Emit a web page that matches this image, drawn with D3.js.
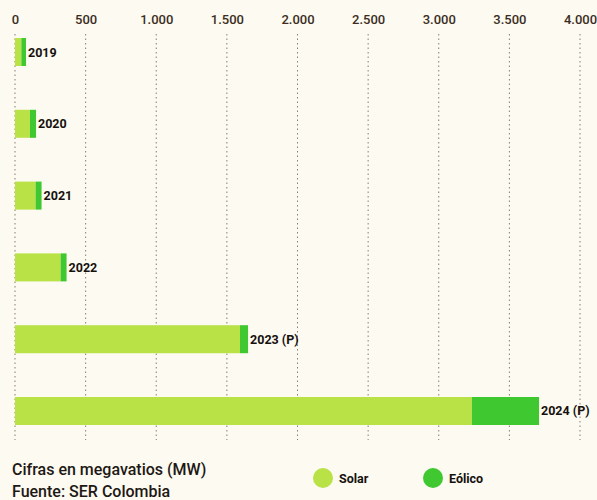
<!DOCTYPE html>
<html lang="es">
<head>
<meta charset="UTF-8">
<script src="https://d3js.org/d3.v7.min.js"></script>
<style>
  html, body { margin: 0; padding: 0; background: #fcfaf1; }
  svg { display: block; font-family: Roboto, "Noto Sans", sans-serif; }
</style>
</head>
<body>
<div id="chart"></div>
<script>
  // datos (MW)
  const years = ["2019", "2020", "2021", "2022", "2023 (P)", "2024 (P)"];
  const solar = [45, 106, 146, 323, 1593, 3235];
  const eolico = [33, 43, 42, 42, 57, 475];
  const tickValues = [0, 500, 1000, 1500, 2000, 2500, 3000, 3500, 4000];
  const legendLabels = ["Solar", "Eólico"];

  const W = 597, H = 500;
  const colors = { solar: "#b9e247", eolico: "#3fc830" };

  const svg = d3.select("#chart").append("svg")
    .attr("width", W).attr("height", H);

  svg.append("rect").attr("width", W).attr("height", H).attr("fill", "#fcfaf1");

  const x = d3.scaleLinear().domain([0, 4000]).range([15, 580]);
  const y = d3.scaleBand().domain(years).range([38, 425]).paddingInner(0.61).paddingOuter(0);

  const loc = d3.formatLocale({ decimal: ",", thousands: ".", grouping: [3], currency: ["$", ""] });
  const fmt = loc.format(",d");

  // lineas de guia punteadas
  svg.append("g").selectAll("line")
    .data(tickValues)
    .join("line")
      .attr("x1", d => x(d)).attr("x2", d => x(d))
      .attr("y1", 34).attr("y2", 440)
      .attr("stroke", "#8c7d6c")
      .attr("stroke-width", 1)
      .attr("stroke-dasharray", "1.5,3");

  // etiquetas del eje superior
  const axis = svg.append("g")
    .attr("transform", "translate(0,24)")
    .call(d3.axisTop(x).tickValues(tickValues).tickFormat(fmt).tickSize(0).tickPadding(0));
  axis.select(".domain").remove();
  axis.selectAll("text")
    .style("font-family", "Roboto, sans-serif")
    .style("font-size", "13px")
    .style("font-weight", "500")
    .attr("fill", "#3b2d22");

  const rows = years.map((yr, i) => ({ yr, s: solar[i], e: eolico[i] }));

  const g = svg.append("g");
  g.selectAll(".solar")
    .data(rows)
    .join("rect")
      .attr("class", "solar")
      .attr("x", x(0))
      .attr("y", d => y(d.yr))
      .attr("width", d => x(d.s) - x(0))
      .attr("height", y.bandwidth())
      .attr("fill", colors.solar);

  g.selectAll(".eolico")
    .data(rows)
    .join("rect")
      .attr("class", "eolico")
      .attr("x", d => x(d.s))
      .attr("y", d => y(d.yr))
      .attr("width", d => x(d.s + d.e) - x(d.s))
      .attr("height", y.bandwidth())
      .attr("fill", colors.eolico);

  g.selectAll(".lbl")
    .data(rows)
    .join("text")
      .attr("class", "lbl")
      .attr("x", d => x(d.s + d.e) + 2)
      .attr("y", d => y(d.yr) + y.bandwidth() / 2)
      .attr("dy", "0.36em")
      .style("font-size", "12.5px")
      .style("font-weight", "700")
      .attr("fill", "#16110d")
      .text(d => d.yr);

  // notas
  svg.append("text")
    .attr("x", 12).attr("y", 475)
    .style("font-size", "16px").style("font-weight", "500")
    .attr("fill", "#1e1814")
    .text("Cifras en megavatios (MW)");
  svg.append("text")
    .attr("x", 12).attr("y", 497)
    .style("font-size", "16px").style("font-weight", "500")
    .attr("fill", "#1e1814")
    .text("Fuente: SER Colombia");

  // leyenda
  const lg = svg.append("g").selectAll("g")
    .data(legendLabels)
    .join("g")
      .attr("transform", (d, i) => "translate(" + (323 + i * 110) + ",478)");
  lg.append("circle")
    .attr("r", 10)
    .attr("fill", (d, i) => i === 0 ? colors.solar : colors.eolico);
  lg.append("text")
    .attr("x", 16).attr("dy", "0.36em")
    .style("font-size", "12.5px").style("font-weight", "700")
    .attr("fill", "#16110d")
    .text(d => d);
</script>
</body>
</html>
